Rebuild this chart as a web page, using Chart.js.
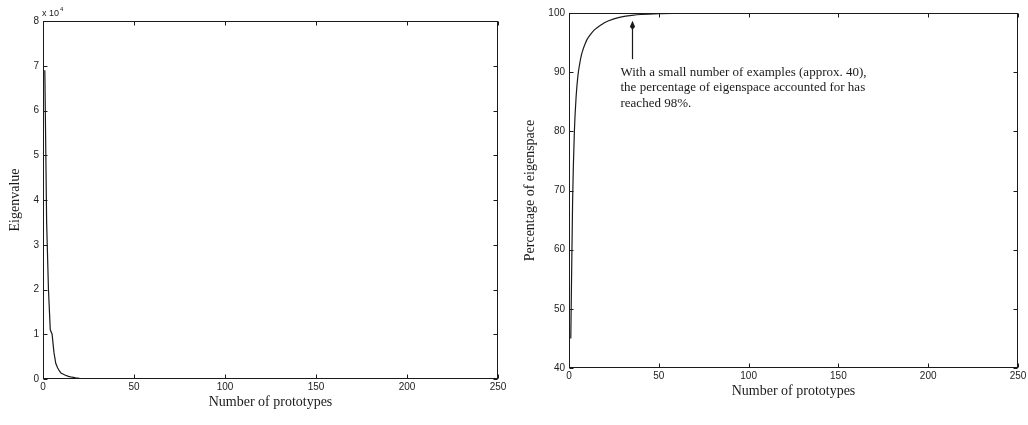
<!DOCTYPE html>
<html>
<head>
<meta charset="utf-8">
<script src="https://cdn.jsdelivr.net/npm/chart.js@4.4.1/dist/chart.umd.min.js"></script>
<style>
  html, body { margin: 0; padding: 0; background: #fff; }
  #wrap { position: relative; width: 1028px; height: 425px; overflow: hidden; }
  .pane { position: absolute; top: 0; height: 425px; }
  #paneL { left: 0; width: 515px; }
  #paneR { left: 515px; width: 513px; }
</style>
</head>
<body>
<div id="wrap">
  <div class="pane" id="paneL"><canvas id="eig"></canvas></div>
  <div class="pane" id="paneR"><canvas id="pct"></canvas></div>
</div>
<script>
// Shared x axis: number of prototypes
const prototypeTicks = [0, 50, 100, 150, 200, 250];

// Eigenvalue spectrum (sorted, largest first)
const eigX = [1, 2, 3, 4, 5, 6, 7, 8, 9, 10, 11, 12, 14, 16, 18, 20, 25, 30, 40, 60, 100, 150, 200, 250];
const eigY = [69000, 35000, 20000, 11000, 10000, 6000, 3500, 2500, 1800, 1300, 1100, 900, 600, 400, 250, 120, 60, 30, 15, 5, 2, 1, 0, 0];
const eigTicks = [0, 1, 2, 3, 4, 5, 6, 7, 8];           // in units of 10^4

// Cumulative share of the eigenspace (%)
const pctX = [1, 2, 3, 4, 5, 6, 7, 8, 9, 10, 12, 14, 16, 18, 20, 25, 30, 35, 40, 50, 60, 80, 100, 150, 200, 250];
const pctY = [45, 68, 80, 86, 89.5, 91.5, 93, 94, 94.8, 95.5, 96.4, 97.1, 97.6, 98.0, 98.4, 99.0, 99.4, 99.6, 99.75, 99.9, 99.95, 100, 100, 100, 100, 100];
const pctTicks = [40, 50, 60, 70, 80, 90, 100];

// Callout text
const noteLines = [
  'With a small number of examples (approx. 40),',
  'the percentage of eigenspace accounted for has',
  'reached 98%.'
];
const noteAt = { x: 35, tip: 98.2, tail: 92.2 };

Chart.defaults.font.family = '"Liberation Sans", Arial, sans-serif';
Chart.defaults.color = '#222';

const INK = '#1a1a1a';
const serif = '"Liberation Serif", "Times New Roman", serif';

function fixedTicks(values) {
  return scale => { scale.ticks = values.map(v => ({ value: v })); };
}

// Boxed frame with inward tick marks on all four sides
const framePlugin = {
  id: 'frame',
  afterDatasetsDraw(chart) {
    const { ctx, chartArea: a, scales } = chart;
    const L = Math.round(a.left) + 0.5, R = Math.round(a.right) - 0.5;
    const T = Math.round(a.top) + 0.5, B = Math.round(a.bottom) - 0.5;
    const len = 4;
    ctx.save();
    ctx.strokeStyle = INK;
    ctx.lineWidth = 1;
    ctx.strokeRect(L, T, R - L, B - T);
    ctx.beginPath();
    scales.x.ticks.forEach(t => {
      const px = Math.round(scales.x.getPixelForValue(t.value)) + 0.5;
      ctx.moveTo(px, B); ctx.lineTo(px, B - len);
      ctx.moveTo(px, T); ctx.lineTo(px, T + len);
    });
    scales.y.ticks.forEach(t => {
      const py = Math.round(scales.y.getPixelForValue(t.value)) + 0.5;
      ctx.moveTo(L, py); ctx.lineTo(L + len, py);
      ctx.moveTo(R, py); ctx.lineTo(R - len, py);
    });
    ctx.stroke();
    ctx.restore();
  }
};

// "x 10^4" exponent label above the y axis
const exponentPlugin = {
  id: 'exponent',
  afterDraw(chart) {
    const { ctx, chartArea: a } = chart;
    ctx.save();
    ctx.fillStyle = INK;
    ctx.textBaseline = 'alphabetic';
    ctx.font = '9px "Liberation Sans", Arial, sans-serif';
    ctx.fillText('x 10', a.left - 1, a.top - 5);
    const w = ctx.measureText('x 10').width;
    ctx.font = '6px "Liberation Sans", Arial, sans-serif';
    ctx.fillText('4', a.left - 1 + w + 1, a.top - 10);
    ctx.restore();
  }
};

// Arrow and note on the cumulative curve
const notePlugin = {
  id: 'note',
  afterDraw(chart) {
    const { ctx, scales: { x, y } } = chart;
    const ax = Math.round(x.getPixelForValue(noteAt.x)) + 0.5;
    const tipY = y.getPixelForValue(noteAt.tip);
    const tailY = y.getPixelForValue(noteAt.tail);
    ctx.save();
    ctx.strokeStyle = INK;
    ctx.fillStyle = INK;
    ctx.lineWidth = 1.2;
    ctx.beginPath();
    ctx.moveTo(ax, tailY);
    ctx.lineTo(ax, tipY + 4);
    ctx.stroke();
    ctx.beginPath();
    ctx.moveTo(ax, tipY - 3);
    ctx.lineTo(ax + 2.6, tipY + 3);
    ctx.lineTo(ax, tipY + 6);
    ctx.lineTo(ax - 2.6, tipY + 3);
    ctx.closePath();
    ctx.fill();

    ctx.font = '13px ' + serif;
    ctx.textBaseline = 'middle';
    const tx = ax - 12;
    noteLines.forEach((s, i) => ctx.fillText(s, tx, tailY + 13 + i * 15.5));
    ctx.restore();
  }
};

function makeChart(id, xs, ys, opts) {
  return new Chart(document.getElementById(id), {
    type: 'line',
    data: {
      datasets: [{
        data: xs.map((v, i) => ({ x: v, y: ys[i] })),
        borderColor: INK,
        borderWidth: 1.2,
        pointRadius: 0,
        fill: false,
        tension: 0,
        cubicInterpolationMode: opts.smooth ? 'monotone' : 'default'
      }]
    },
    options: {
      responsive: true,
      maintainAspectRatio: false,
      animation: false,
      events: [],
      layout: { padding: opts.padding },
      plugins: { legend: { display: false }, tooltip: { enabled: false } },
      scales: {
        x: {
          type: 'linear',
          min: 0, max: 250,
          afterBuildTicks: fixedTicks(prototypeTicks),
          afterFit: s => { s.height = opts.xAxisHeight; s.paddingLeft = 0; s.paddingRight = 0; },
          grid: { display: false, drawTicks: false },
          border: { display: false },
          ticks: { padding: 2, maxRotation: 0, font: { size: 10 }, color: '#222' },
          title: {
            display: true, text: 'Number of prototypes',
            font: { family: serif, size: 14 }, color: INK,
            padding: opts.xTitlePad
          }
        },
        y: {
          type: 'linear',
          min: opts.yMin, max: opts.yMax,
          afterBuildTicks: fixedTicks(opts.yTicks),
          afterFit: s => { s.width = opts.yAxisWidth; },
          grid: { display: false, drawTicks: false },
          border: { display: false },
          ticks: { padding: 4, font: { size: 10 }, color: '#222', callback: opts.yLabel },
          title: {
            display: true, text: opts.yTitle,
            font: { family: serif, size: 14 }, color: INK,
            padding: { top: 7, bottom: 0 }
          }
        }
      }
    },
    plugins: opts.plugins
  });
}

makeChart('eig', eigX, eigY, {
  padding: { top: 21, right: 17, left: 0, bottom: 0 },
  xAxisHeight: 46, yAxisWidth: 43,
  xTitlePad: { top: 6, bottom: 14 },
  yMin: 0, yMax: 80000,
  yTicks: eigTicks.map(v => v * 1e4),
  yLabel: v => String(v / 1e4),
  yTitle: 'Eigenvalue',
  smooth: false,
  plugins: [framePlugin, exponentPlugin]
});

makeChart('pct', pctX, pctY, {
  padding: { top: 13, right: 10, left: 0, bottom: 0 },
  xAxisHeight: 57, yAxisWidth: 54,
  xTitlePad: { top: 6, bottom: 25 },
  yMin: 40, yMax: 100,
  yTicks: pctTicks,
  yLabel: v => String(v),
  yTitle: 'Percentage of eigenspace',
  smooth: true,
  plugins: [framePlugin, notePlugin]
});
</script>
</body>
</html>
